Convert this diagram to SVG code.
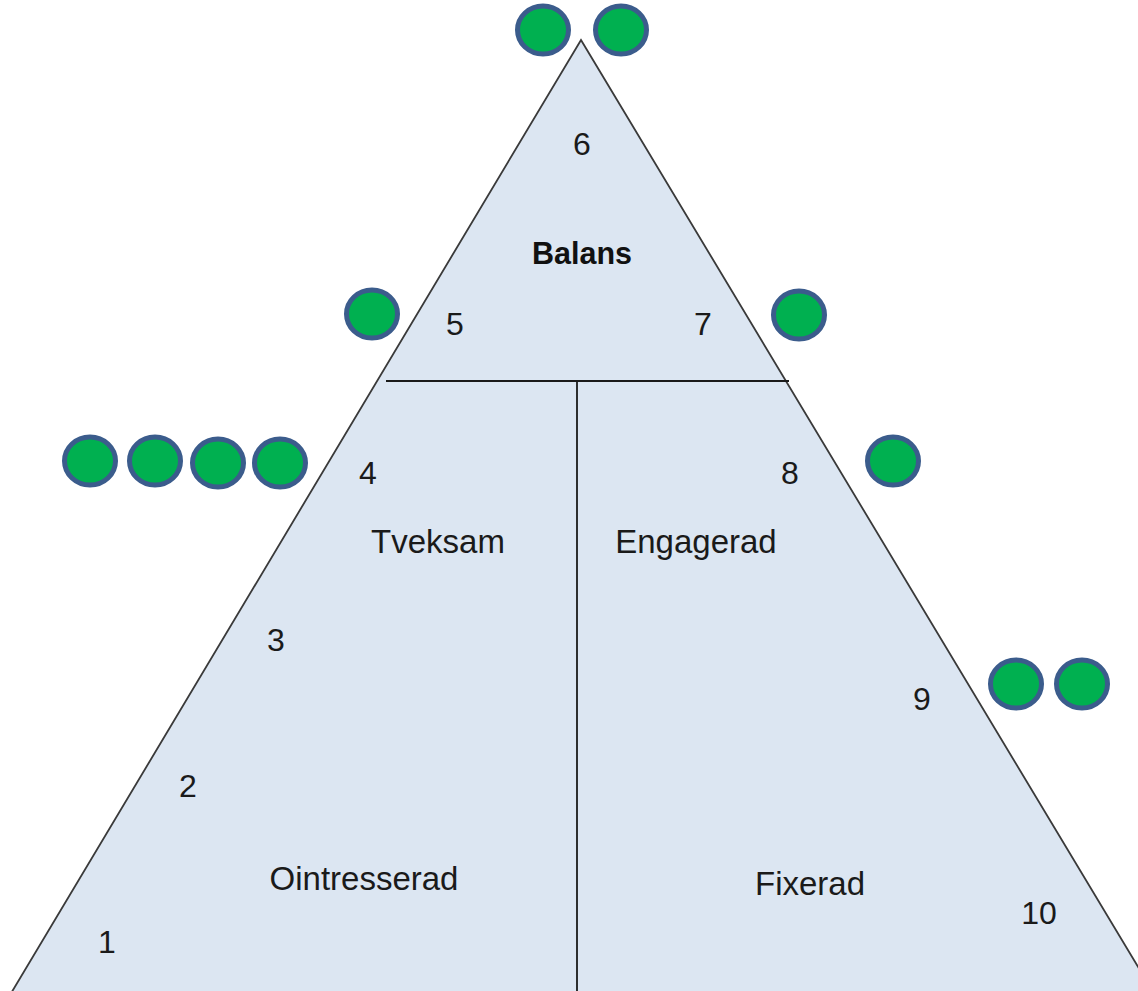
<svg xmlns="http://www.w3.org/2000/svg" width="1138" height="991" viewBox="0 0 1138 991">
  <style>
    .tri { fill: #DCE6F2; stroke: #3A3A3A; stroke-width: 1.8; }
    .div { stroke: #1A1A1A; stroke-width: 1.8; fill: none; }
    .dot { fill: #00B050; stroke: #3B5C8C; stroke-width: 5; }
    .lbl { font-family: "Liberation Sans", Arial, sans-serif; font-size: 32px; fill: #1A1A1A; text-anchor: middle; }
    .word { font-size: 33px; }
    .head { font-family: "Liberation Sans", Arial, sans-serif; font-size: 30.5px; font-weight: bold; fill: #111; text-anchor: middle; }
  </style>
  <rect width="1138" height="991" fill="#FFFFFF"/>

  <!-- pyramid body -->
  <g id="pyramid">
    <polygon class="tri" points="581,40 1158,1000 7,1000"/>
  </g>

  <!-- dividing lines -->
  <g id="connectors">
    <line class="div" x1="386" y1="381" x2="789" y2="381"/>
    <line class="div" x1="577" y1="381" x2="577" y2="1000"/>
  </g>

  <!-- zones -->
  <g id="zone-balans">
    <text class="head" x="582" y="264">Balans</text>
  </g>
  <g id="zone-tveksam">
    <text class="lbl word" x="438" y="553">Tveksam</text>
  </g>
  <g id="zone-engagerad">
    <text class="lbl word" x="696" y="553">Engagerad</text>
  </g>
  <g id="zone-ointresserad">
    <text class="lbl word" x="364" y="890">Ointresserad</text>
  </g>
  <g id="zone-fixerad">
    <text class="lbl word" x="810" y="895">Fixerad</text>
  </g>

  <!-- scale numbers -->
  <g id="scale">
    <text class="lbl" x="107" y="953">1</text>
    <text class="lbl" x="188" y="797">2</text>
    <text class="lbl" x="276" y="651">3</text>
    <text class="lbl" x="368" y="484">4</text>
    <text class="lbl" x="455" y="335">5</text>
    <text class="lbl" x="582" y="155">6</text>
    <text class="lbl" x="703" y="335">7</text>
    <text class="lbl" x="790" y="484">8</text>
    <text class="lbl" x="922" y="710">9</text>
    <text class="lbl" x="1039" y="924">10</text>
  </g>

  <!-- markers -->
  <g id="marks-6">
    <ellipse class="dot" cx="543" cy="30" rx="25.5" ry="24"/>
    <ellipse class="dot" cx="621" cy="30" rx="25.5" ry="24"/>
  </g>
  <g id="marks-5">
    <ellipse class="dot" cx="372" cy="314" rx="25.5" ry="24"/>
  </g>
  <g id="marks-7">
    <ellipse class="dot" cx="799" cy="315" rx="25.5" ry="24"/>
  </g>
  <g id="marks-4">
    <ellipse class="dot" cx="90" cy="461" rx="25.5" ry="24"/>
    <ellipse class="dot" cx="155" cy="461" rx="25.5" ry="24"/>
    <ellipse class="dot" cx="218" cy="463" rx="25.5" ry="24"/>
    <ellipse class="dot" cx="280" cy="463" rx="25.5" ry="24"/>
  </g>
  <g id="marks-8">
    <ellipse class="dot" cx="893" cy="461" rx="25.5" ry="24"/>
  </g>
  <g id="marks-9">
    <ellipse class="dot" cx="1016" cy="684" rx="25.5" ry="24"/>
    <ellipse class="dot" cx="1082" cy="684" rx="25.5" ry="24"/>
  </g>
</svg>
